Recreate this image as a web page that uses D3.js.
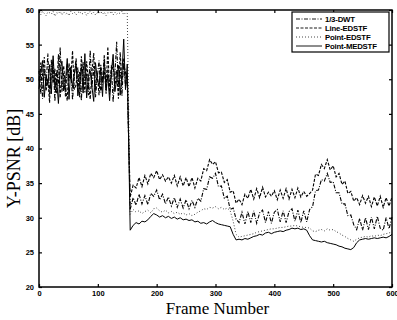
<!DOCTYPE html>
<html>
<head>
<meta charset="utf-8">
<script src="https://cdn.jsdelivr.net/npm/d3@7"></script>
<style>
  body { margin: 0; background: #fff; }
  svg { display: block; }
  .tick text { font-family: "Liberation Sans", Arial, sans-serif; font-weight: bold; font-size: 7.5px; }
</style>
</head>
<body>
<div id="container"></div>
<script>
// frame index: every 3 frames before the scene cut, every 5 after
const frames = d3.range(0, 151, 3).concat(d3.range(155, 601, 5));

const seriesNames = ["1/3-DWT", "Line-EDSTF", "Point-EDSTF", "Point-MEDSTF"];

const dwt = [49.8,52.4,47.2,51.6,48.9,53.7,47.8,50.6,52.9,46.8,51.3,49.1,54.6,48.2,50.9,47.5,52.2,49.7,51.8,47.0,
  50.4,53.1,48.6,51.1,46.9,52.5,49.3,50.8,47.7,54.2,48.8,51.9,47.4,50.2,52.7,48.1,49.6,53.5,47.9,51.4,
  49.0,52.0,46.7,50.7,55.4,48.4,51.7,47.6,53.0,48.9,50.5,
  31.2,32.9,31.8,33.4,32.0,33.2,31.9,33.5,33.1,34.0,32.6,33.4,32.0,33.0,31.7,32.9,31.5,32.7,31.4,32.6,
  31.3,32.5,31.5,32.8,32.4,34.2,34.1,35.9,35.7,36.4,34.5,34.6,32.8,33.1,31.2,31.4,29.8,29.3,30.8,29.1,
  30.9,29.3,31.0,29.2,30.7,31.1,29.3,30.9,29.2,30.8,31.2,29.4,31.0,29.3,30.9,31.3,29.5,31.1,29.3,31.0,
  29.4,31.2,31.6,33.9,34.0,35.5,35.3,36.4,35.1,35.2,33.6,33.6,32.0,32.0,30.3,30.4,29.0,28.3,29.9,28.2,
  30.0,28.3,30.1,28.4,30.2,28.5,28.2,30.0,28.4,30.1];

const lineEdstf = [51.2,47.9,50.6,53.2,48.3,50.1,46.6,52.8,49.4,51.5,48.0,53.6,47.3,50.8,51.9,48.7,46.9,52.3,50.0,54.1,
  48.5,49.2,51.7,47.4,53.3,50.3,48.1,52.6,49.5,47.1,51.0,53.8,48.6,50.9,47.7,52.1,49.9,51.2,48.4,54.7,
  47.8,50.6,52.4,48.8,51.3,47.2,53.9,49.6,52.2,51.0,49.4,
  33.0,34.7,34.3,35.8,34.5,36.1,34.9,36.4,35.8,36.8,35.5,36.2,35.3,35.9,35.0,36.1,34.6,35.9,34.6,35.8,
  34.5,35.8,34.3,35.7,35.3,37.1,36.8,38.4,37.7,38.1,36.5,36.6,35.1,35.5,33.7,33.9,32.1,32.7,31.9,33.4,
  32.8,34.1,32.7,34.2,32.9,34.4,33.0,33.7,33.1,33.9,32.6,34.0,32.8,34.2,32.7,34.1,32.9,34.3,33.0,33.8,
  33.1,33.5,34.0,36.3,36.1,37.7,37.1,38.4,36.9,37.5,35.9,36.4,34.8,35.3,33.5,33.8,32.4,32.9,31.9,33.2,
  32.1,33.1,31.6,33.0,31.7,33.1,31.5,32.9,31.7,33.0];

const pointEdstf = [59.7,59.3,59.8,59.5,59.2,59.7,59.6,59.4,59.8,59.1,59.6,59.5,59.8,59.3,59.7,59.4,59.6,59.2,59.8,59.5,
  59.7,59.3,59.6,59.8,59.4,59.5,59.7,59.2,59.6,59.8,59.4,59.7,59.3,59.6,59.5,59.8,59.4,59.7,59.2,59.6,
  59.5,59.8,59.3,59.7,59.4,59.6,59.5,59.8,59.3,59.6,59.5,
  30.5,31.2,30.8,31.0,30.6,30.9,31.1,30.7,31.3,31.4,31.0,30.8,31.1,30.7,30.9,30.6,30.8,30.5,30.7,30.4,
  30.6,30.3,30.5,30.8,31.0,31.3,31.2,31.5,31.4,31.6,31.3,31.5,31.2,31.4,31.0,29.5,27.6,27.2,27.3,27.4,
  27.5,27.6,27.7,27.9,28.0,28.1,28.2,28.3,28.4,28.4,28.5,28.6,28.6,28.7,28.8,28.8,28.9,28.8,28.7,28.6,
  28.6,28.5,28.1,28.0,28.2,28.3,28.1,28.4,28.2,28.3,28.0,27.8,27.5,27.3,27.0,26.8,26.6,26.9,27.1,27.2,
  27.3,27.2,27.4,27.3,27.5,27.4,27.6,27.7,27.8,28.0];

const pointMedstf = [48.6,50.9,52.7,47.4,50.3,49.2,52.1,47.9,53.4,48.7,50.0,46.5,51.4,52.6,48.3,49.7,53.0,47.1,51.6,48.8,
  50.7,52.3,47.6,49.4,51.8,48.0,53.7,47.3,50.5,51.2,48.9,46.8,52.4,50.1,49.0,51.7,47.5,52.9,48.4,50.6,
  46.9,51.1,53.6,48.2,49.8,52.0,47.7,50.8,55.8,48.5,52.2,
  28.2,28.9,29.3,29.1,29.5,29.4,29.7,30.2,30.6,30.4,30.1,30.3,30.0,30.2,29.9,30.1,29.8,30.0,29.7,29.8,
  29.6,29.7,29.4,29.5,29.2,29.3,29.1,29.4,29.6,29.3,29.1,29.0,28.9,28.8,28.7,27.6,26.8,26.9,26.8,27.0,
  26.9,27.1,27.3,27.4,27.6,27.5,27.8,27.9,27.7,27.9,28.0,28.1,28.0,28.2,28.3,28.5,28.4,28.5,28.3,28.4,
  28.2,27.4,26.8,26.7,26.6,26.5,26.6,26.4,26.3,26.2,26.1,25.9,25.8,25.6,25.5,25.4,25.7,26.4,26.8,26.9,
  27.0,26.9,27.0,27.1,27.0,27.1,27.2,27.1,27.3,27.6];

const xTicks = [0, 100, 200, 300, 400, 500, 600];
const yTicks = [20, 25, 30, 35, 40, 45, 50, 55, 60];

const width = 397, height = 320;
const margin = {top: 10, right: 5, bottom: 33, left: 39};

const svg = d3.select("#container")
  .append("svg")
    .attr("width", width)
    .attr("height", height);

const x = d3.scaleLinear().domain([0, 600]).range([margin.left, width - margin.right]);
const y = d3.scaleLinear().domain([20, 60]).range([height - margin.bottom, margin.top]);

const allSeries = [
  {name: seriesNames[0], values: dwt, dash: "4,1.5,1,1.5", w: 1.1},
  {name: seriesNames[1], values: lineEdstf, dash: "3,1.5", w: 1.1},
  {name: seriesNames[2], values: pointEdstf, dash: "0.8,2.2", w: 0.9},
  {name: seriesNames[3], values: pointMedstf, dash: null, w: 1}
];

const line = d3.line()
  .x((d, i) => x(frames[i]))
  .y(d => y(d));

svg.append("g")
    .attr("fill", "none")
    .attr("stroke", "#000")
  .selectAll("path")
  .data(allSeries)
  .join("path")
    .attr("stroke-width", d => d.w)
    .attr("stroke-dasharray", d => d.dash)
    .attr("d", d => line(d.values));

// axes, ticks drawn inward like the original
const tickLen = 3;
svg.append("g")
    .attr("transform", `translate(0,${height - margin.bottom})`)
    .call(d3.axisBottom(x).tickValues(xTicks).tickSizeInner(-tickLen).tickSizeOuter(0).tickPadding(4))
    .call(g => g.select(".domain").remove());
svg.append("g")
    .attr("transform", `translate(${margin.left},0)`)
    .call(d3.axisLeft(y).tickValues(yTicks).tickSizeInner(-tickLen).tickSizeOuter(0).tickPadding(5))
    .call(g => g.select(".domain").remove());
svg.append("g")
    .attr("transform", `translate(0,${margin.top})`)
    .call(d3.axisTop(x).tickValues(xTicks).tickSizeInner(-tickLen).tickSizeOuter(0).tickFormat(""))
    .call(g => g.select(".domain").remove());
svg.append("g")
    .attr("transform", `translate(${width - margin.right},0)`)
    .call(d3.axisRight(y).tickValues(yTicks).tickSizeInner(-tickLen).tickSizeOuter(0).tickFormat(""))
    .call(g => g.select(".domain").remove());

svg.append("rect")
    .attr("x", margin.left)
    .attr("y", margin.top)
    .attr("width", width - margin.left - margin.right)
    .attr("height", height - margin.top - margin.bottom)
    .attr("fill", "none")
    .attr("stroke", "#000")
    .attr("stroke-width", 1.5);

svg.selectAll(".tick line").attr("stroke-width", 1.2);

// axis titles
svg.append("text")
    .attr("x", (margin.left + width - margin.right) / 2 + 2)
    .attr("y", 314)
    .attr("text-anchor", "middle")
    .attr("font-family", "'Liberation Serif', 'Times New Roman', serif")
    .attr("font-size", 17)
    .text("Frame Number");
svg.append("text")
    .attr("transform", `translate(20,${(margin.top + height - margin.bottom) / 2 + 10}) rotate(-90)`)
    .attr("text-anchor", "middle")
    .attr("font-family", "'Liberation Serif', 'Times New Roman', serif")
    .attr("font-size", 18)
    .text("Y-PSNR [dB]");

// legend
const lg = svg.append("g").attr("transform", "translate(292,12)");
lg.append("rect")
    .attr("width", 97)
    .attr("height", 40)
    .attr("fill", "#fff")
    .attr("stroke", "#000")
    .attr("stroke-width", 1.2);
const item = lg.selectAll("g.item")
  .data(allSeries)
  .join("g")
    .attr("class", "item")
    .attr("transform", (d, i) => `translate(0,${7 + i * 9})`);
item.append("line")
    .attr("x1", 4).attr("x2", 30)
    .attr("stroke", "#000")
    .attr("stroke-width", 0.9)
    .attr("stroke-dasharray", d => d.dash);
item.append("text")
    .attr("x", 33)
    .attr("dy", "0.35em")
    .attr("font-family", "'Liberation Sans', Arial, sans-serif")
    .attr("font-weight", "bold")
    .attr("font-size", 7.8)
    .attr("letter-spacing", -0.2)
    .text(d => d.name);
</script>
</body>
</html>
